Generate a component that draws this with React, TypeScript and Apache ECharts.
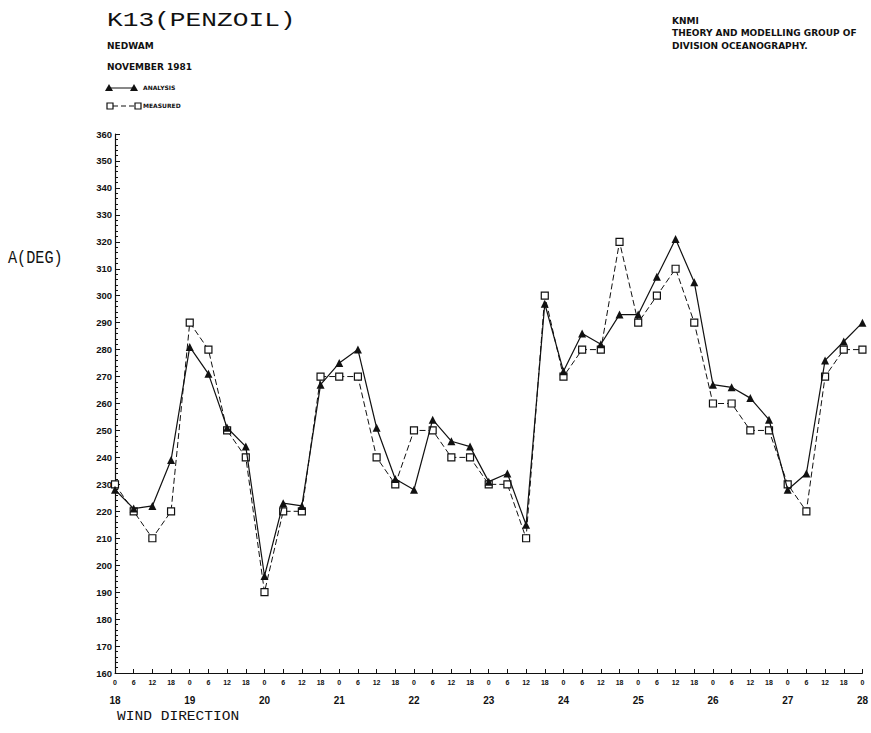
import React, { useEffect, useRef } from "react";
import * as echarts from "echarts";

// Wind direction at K13 (Penzoil), November 1981, 6-hourly from the 18th to the 28th
const days = ["18", "19", "20", "21", "22", "23", "24", "25", "26", "27", "28"];
const hours = ["0", "6", "12", "18"];

// Hindcast (analysis) directions in degrees
const analysis = [
  228, 221, 222, 239, 281, 271, 251, 244, 196, 223, 222, 267, 275, 280, 251, 232,
  228, 254, 246, 244, 231, 234, 215, 297, 272, 286, 282, 293, 293, 307, 321, 305,
  267, 266, 262, 254, 228, 234, 276, 283, 290,
];

// Observed (measured) directions in degrees
const measured = [
  230, 220, 210, 220, 290, 280, 250, 240, 190, 220, 220, 270, 270, 270, 240, 230,
  250, 250, 240, 240, 230, 230, 210, 300, 270, 280, 280, 320, 290, 300, 310, 290,
  260, 260, 250, 250, 230, 220, 270, 280, 280,
];

const yMin = 160;
const yMax = 360;
const yStep = 10;

// One category per 6-hour step, ending on day 28 at 0h
const categories: string[] = [];
days.forEach((d, di) => {
  hours.forEach((h) => {
    if (di < days.length - 1 || h === "0") categories.push(d + "|" + h);
  });
});

const INK = "#111";
const PLAIN = "'Liberation Sans', 'DejaVu Sans', sans-serif";
const WIDE = "'DejaVu Sans', 'Liberation Sans', sans-serif";
const MONO = "'Liberation Mono', 'DejaVu Sans Mono', monospace";

export default function App() {
  const ref = useRef<HTMLDivElement>(null);

  useEffect(() => {
    if (!ref.current) return;
    const chart = echarts.init(ref.current, null, { renderer: "svg" });

    const smallText = (text: string, x: number, y: number, size = 9, family = WIDE) => ({
      type: "text",
      x,
      y,
      style: {
        text,
        fill: INK,
        font: `bold ${size}px ${family}`,
        textVerticalAlign: "middle",
      },
    });

    const option: any = {
      animation: false,
      backgroundColor: "#fff",
      grid: { left: 115, right: 6, top: 134, bottom: 60, containLabel: false },
      xAxis: [
        {
          type: "category",
          data: categories,
          boundaryGap: false,
          axisLine: { show: true, lineStyle: { color: INK, width: 1 } },
          axisTick: { show: true, inside: true, length: 4, interval: 0, lineStyle: { color: INK } },
          axisLabel: {
            interval: 0,
            margin: 6,
            color: INK,
            fontSize: 7,
            fontWeight: "bold",
            fontFamily: PLAIN,
            formatter: (v: string) => v.split("|")[1],
          },
          splitLine: { show: false },
        },
        {
          type: "category",
          data: categories,
          boundaryGap: false,
          position: "bottom",
          axisLine: { show: false },
          axisTick: { show: false },
          axisLabel: {
            interval: 3,
            margin: 22,
            color: INK,
            fontSize: 10,
            fontWeight: "bold",
            fontFamily: PLAIN,
            formatter: (v: string) => v.split("|")[0],
          },
          splitLine: { show: false },
        },
      ],
      yAxis: {
        type: "value",
        min: yMin,
        max: yMax,
        interval: yStep,
        axisLine: { show: true, lineStyle: { color: INK, width: 1.2 } },
        axisTick: { show: true, inside: true, length: 5, lineStyle: { color: INK } },
        minorTick: { show: true, splitNumber: 5, length: 3, lineStyle: { color: INK } },
        axisLabel: {
          margin: 3,
          color: INK,
          fontSize: 9.5,
          fontWeight: "bold",
          fontFamily: PLAIN,
        },
        splitLine: { show: false },
      },
      series: [
        {
          name: "ANALYSIS",
          type: "line",
          xAxisIndex: 0,
          data: analysis,
          symbol: "triangle",
          symbolSize: 8,
          itemStyle: { color: INK },
          lineStyle: { color: INK, width: 1.2, type: "solid" },
          z: 3,
        },
        {
          name: "MEASURED",
          type: "line",
          xAxisIndex: 0,
          data: measured,
          symbol: "rect",
          symbolSize: 7,
          itemStyle: { color: "#fff", borderColor: INK, borderWidth: 1.2 },
          lineStyle: { color: INK, width: 1, type: [6, 3] },
          z: 2,
        },
      ],
      graphic: [
        {
          type: "text",
          x: 107,
          y: 11,
          scaleX: 1.31,
          style: { text: "K13(PENZOIL)", fill: INK, font: `20px ${MONO}` },
        },
        smallText("NEDWAM", 107, 46),
        smallText("NOVEMBER 1981", 107, 67),
        smallText("KNMI", 672, 21),
        smallText("THEORY AND MODELLING GROUP OF", 672, 33),
        smallText("DIVISION OCEANOGRAPHY.", 672, 46),
        {
          type: "text",
          x: 8,
          y: 249,
          scaleX: 0.8,
          style: { text: "A(DEG)", fill: INK, font: `19px ${MONO}` },
        },
        {
          type: "text",
          x: 117,
          y: 710,
          scaleX: 1.12,
          style: { text: "WIND DIRECTION", fill: INK, font: `13px ${MONO}` },
        },
        // legend: analysis
        {
          type: "line",
          shape: { x1: 109, y1: 88, x2: 134, y2: 88 },
          style: { stroke: INK, lineWidth: 1 },
        },
        {
          type: "polygon",
          shape: { points: [[105, 91], [109, 84], [113, 91]] },
          style: { fill: INK },
        },
        {
          type: "polygon",
          shape: { points: [[130, 91], [134, 84], [138, 91]] },
          style: { fill: INK },
        },
        smallText("ANALYSIS", 143, 87, 6),
        // legend: measured
        {
          type: "line",
          shape: { x1: 113, y1: 106, x2: 135, y2: 106 },
          style: { stroke: INK, lineWidth: 1, lineDash: [5, 3] },
        },
        {
          type: "rect",
          shape: { x: 107, y: 103, width: 6, height: 6 },
          style: { fill: "#fff", stroke: INK, lineWidth: 1.2 },
        },
        {
          type: "rect",
          shape: { x: 135, y: 103, width: 6, height: 6 },
          style: { fill: "#fff", stroke: INK, lineWidth: 1.2 },
        },
        smallText("MEASURED", 143, 105, 6),
      ],
    };

    chart.setOption(option);
    return () => chart.dispose();
  }, []);

  return (
    <div
      ref={ref}
      style={{ position: "fixed", left: 0, top: 0, width: 871, height: 733, background: "#fff" }}
    />
  );
}
